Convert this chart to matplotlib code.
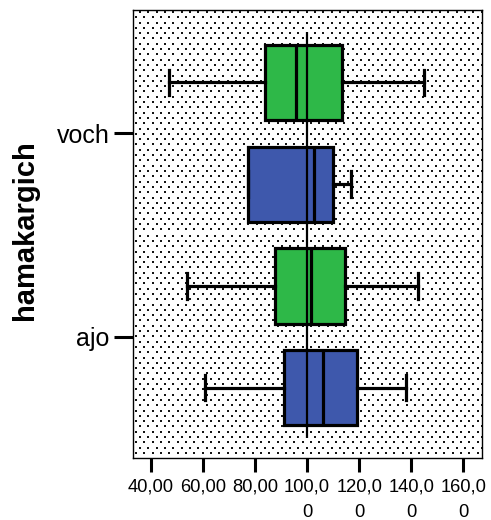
import numpy as np
import matplotlib
matplotlib.use("Agg")
import matplotlib.pyplot as plt
from matplotlib.ticker import FixedLocator, FixedFormatter

plt.rcParams['font.family'] = ['Liberation Sans', 'DejaVu Sans']

# Categories on the vertical axis (top to bottom)
categories = ['voch', 'ajo']

# Five-number summaries per category: whisker low, Q1, median, Q3, whisker high
green_whislo = [47.0, 53.9]
green_q1 = [84.0, 87.8]
green_med = [95.9, 101.5]
green_q3 = [113.5, 114.5]
green_whishi = [145.1, 142.5]

blue_whislo = [77.2, 60.9]
blue_q1 = [77.2, 91.2]
blue_med = [102.7, 106.2]
blue_q3 = [109.9, 119.2]
blue_whishi = [116.9, 138.0]

reference_value = 100.0

x_ticks = [40, 60, 80, 100, 120, 140, 160]
x_tick_labels = ['40,00', '60,00', '80,00', '100,0\n0', '120,0\n0', '140,0\n0', '160,0\n0']

GREEN = '#2EB848'
BLUE = '#3E58AC'

W_PX, H_PX, DPI = 491, 520, 100
fig = plt.figure(figsize=(W_PX / DPI, H_PX / DPI), dpi=DPI)
ax_left, ax_right, ax_top, ax_bottom = 133, 482, 10, 458
ax = fig.add_axes([ax_left / W_PX, 1 - ax_bottom / H_PX,
                   (ax_right - ax_left) / W_PX, (ax_bottom - ax_top) / H_PX])

# Dotted background fill for the plot area
aw, ah = ax_right - ax_left, ax_bottom - ax_top
bg = np.ones((ah, aw, 3))
row_step, col_step = 5.3, 8.33
r = 0
y = 2.0
while y < ah - 1:
    x = 6.0 if r % 2 == 0 else 2.0
    while x < aw - 1:
        yi, xi = int(round(y)), int(round(x))
        bg[yi:yi + 2, xi:xi + 2] = 0.08
        x += col_step
    y += row_step
    r += 1
ax.imshow(bg, extent=[0, 1, 0, 1], transform=ax.transAxes, aspect='auto',
          interpolation='nearest', zorder=0)

def make_stats(lo, q1, med, q3, hi):
    return [dict(whislo=a, q1=b, med=c, q3=d, whishi=e, fliers=[])
            for a, b, c, d, e in zip(lo, q1, med, q3, hi)]

cat_pos = np.arange(len(categories), dtype=float)
offset = 0.25
box_w = 0.37
lw = 2.3

common = dict(widths=box_w, orientation='horizontal', patch_artist=True,
              showfliers=False, capwidths=0.126,
              medianprops=dict(color='black', linewidth=lw),
              whiskerprops=dict(color='black', linewidth=lw),
              capprops=dict(color='black', linewidth=lw))

ax.bxp(make_stats(green_whislo, green_q1, green_med, green_q3, green_whishi),
       positions=cat_pos - offset,
       boxprops=dict(facecolor=GREEN, edgecolor='black', linewidth=lw), **common)
ax.bxp(make_stats(blue_whislo, blue_q1, blue_med, blue_q3, blue_whishi),
       positions=cat_pos + offset,
       boxprops=dict(facecolor=BLUE, edgecolor='black', linewidth=lw), **common)

# Reference line
ax.vlines(reference_value, cat_pos[0] - 0.5, cat_pos[-1] + 0.5,
          color='black', linewidth=1.6, zorder=5)

ax.set_xlim(33.1, 167.2)
ax.set_ylim(1.596, -0.606)

ax.xaxis.set_major_locator(FixedLocator(x_ticks))
ax.xaxis.set_major_formatter(FixedFormatter(x_tick_labels))
ax.set_yticks(cat_pos)
ax.set_yticklabels(categories)

ax.tick_params(axis='x', length=10, width=2.2, labelsize=13.2, pad=5, color='black')
ax.tick_params(axis='y', length=14, width=2.2, labelsize=18, pad=3, color='black')
for lbl in ax.get_xticklabels():
    lbl.set_linespacing(1.6)
for s in ax.spines.values():
    s.set_linewidth(1.0)
    s.set_color('black')

fig.text(25 / W_PX, 1 - 230 / H_PX, 'hamakargich', rotation=90,
         ha='center', va='center', fontsize=21, fontweight='bold')

fig.savefig('out.png', dpi=DPI)
